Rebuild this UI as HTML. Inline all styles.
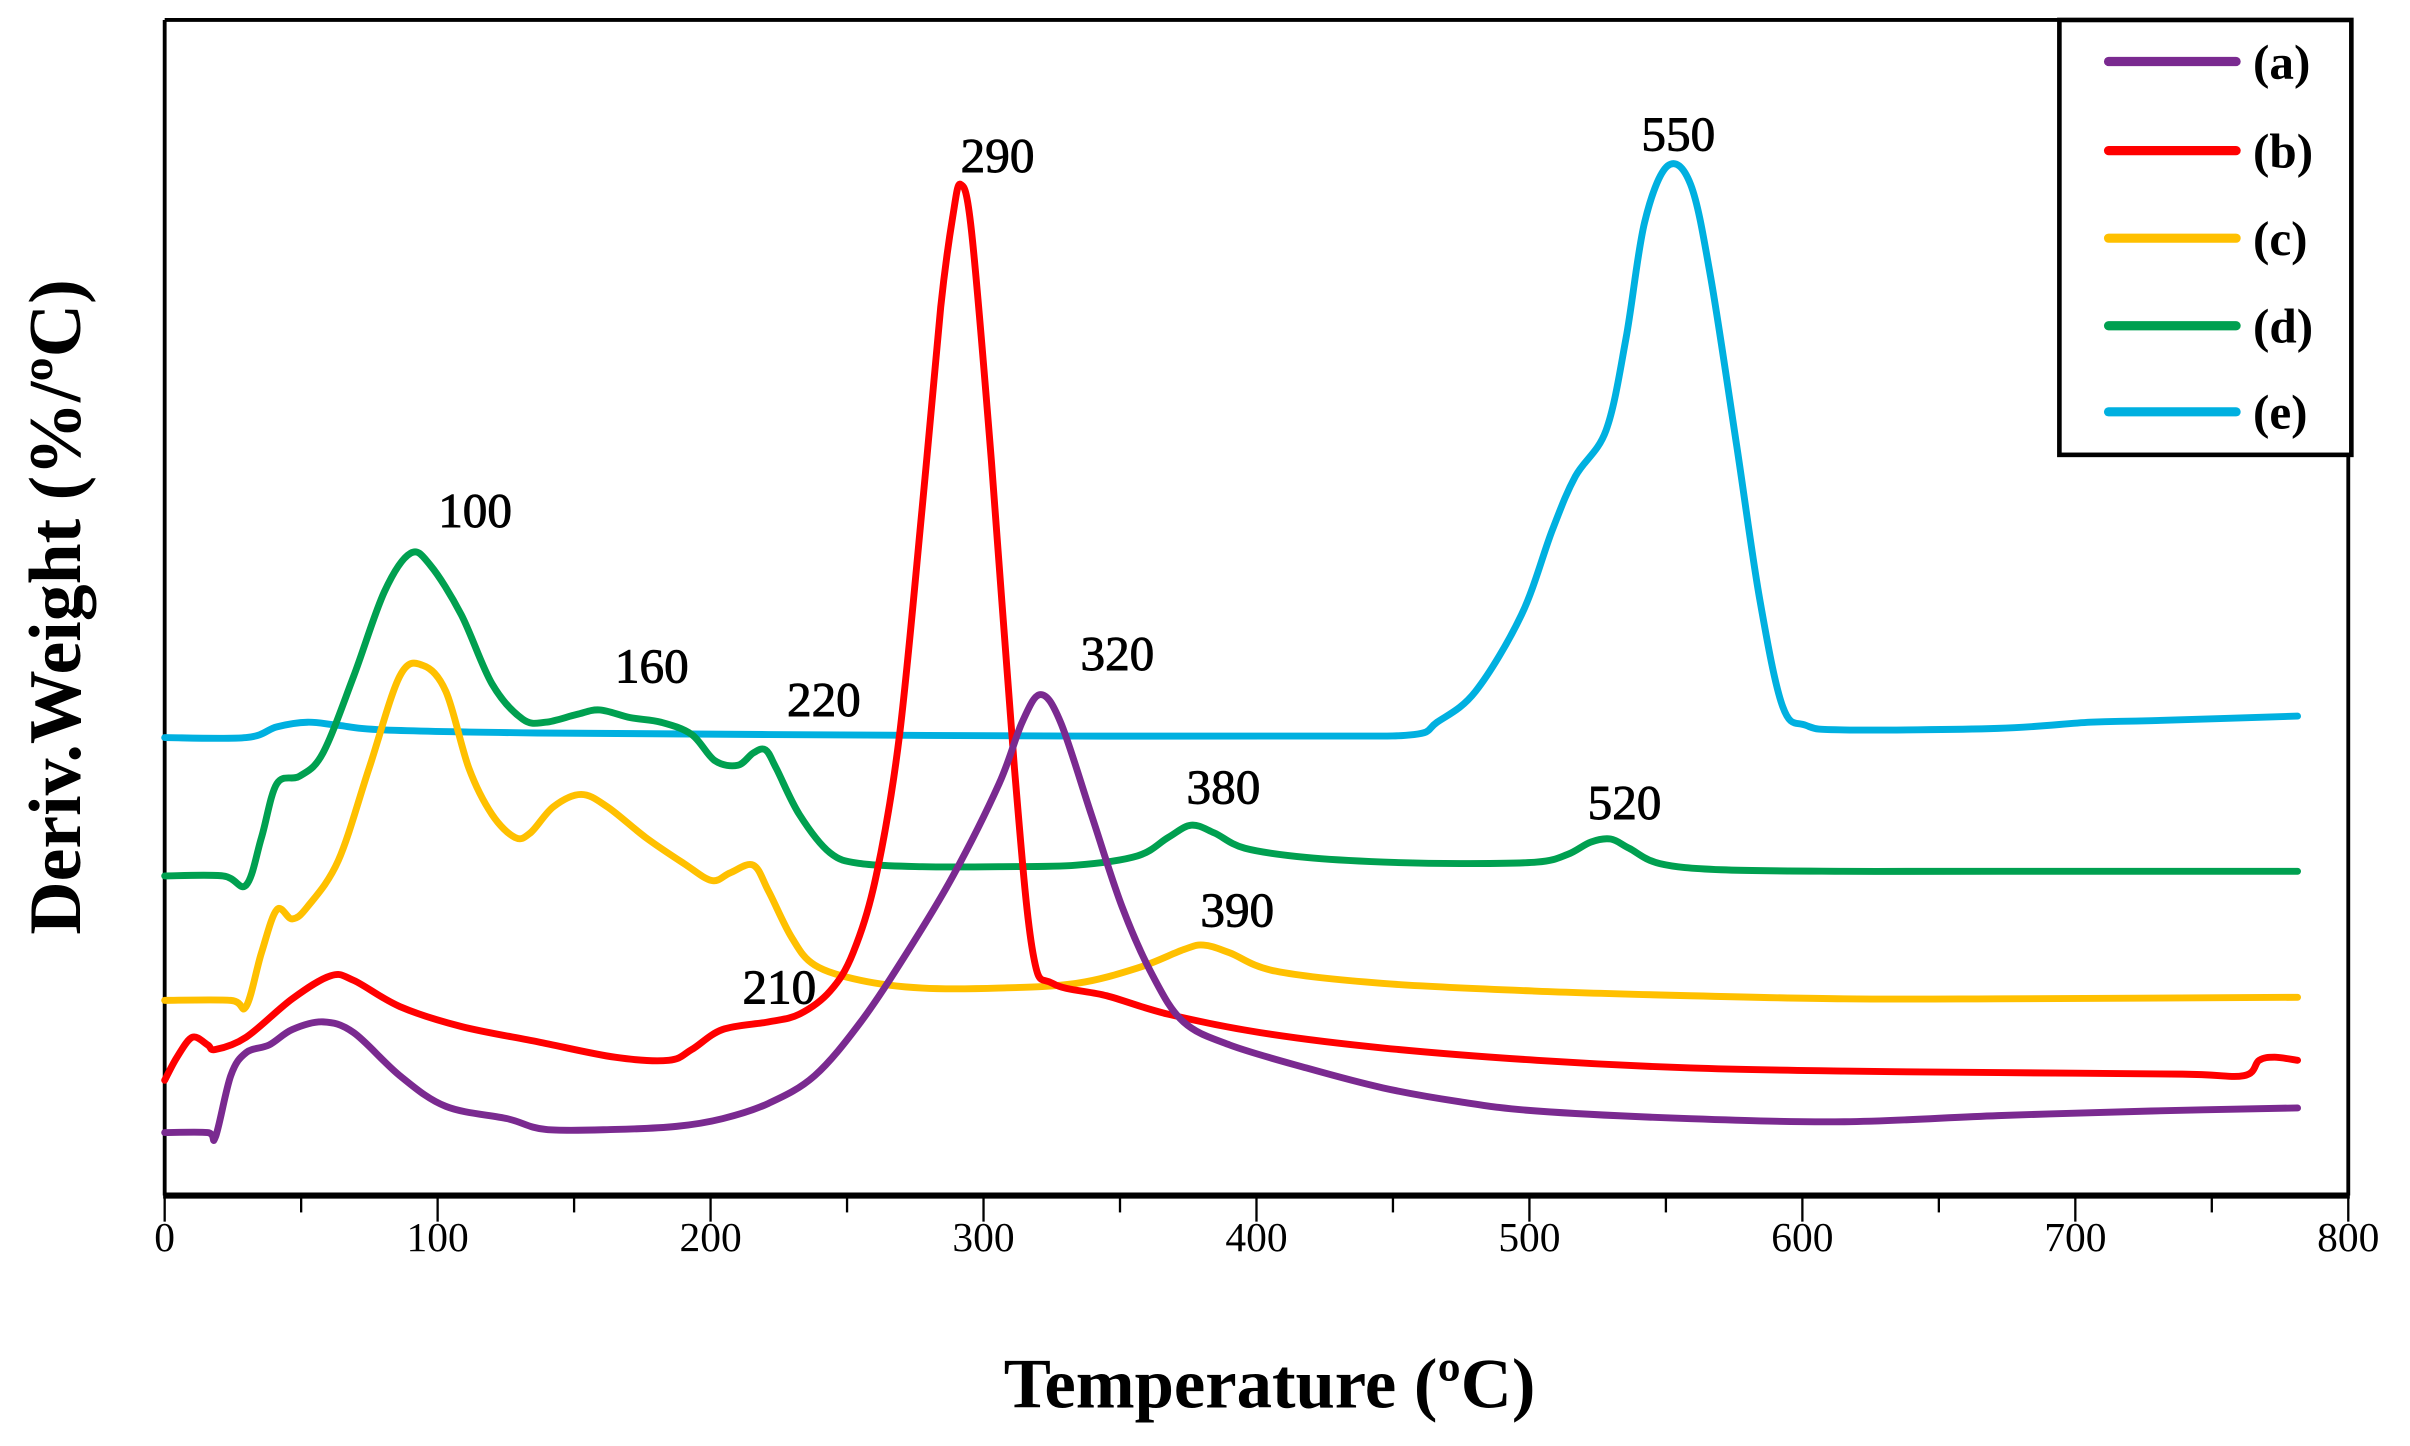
<!DOCTYPE html>
<html><head><meta charset="utf-8"><style>
html,body{margin:0;padding:0;background:#fff;}
svg{display:block;}
text{font-family:"Liberation Serif",serif;}
</style></head><body>
<svg id="s" width="2410" height="1446" viewBox="0 0 1568 941" xmlns="http://www.w3.org/2000/svg">
<rect width="1568" height="941" fill="#fff"/>
<g stroke="#000" fill="none">
<line x1="107" y1="13" x2="1528" y2="13" stroke-width="2.5"/>
<line x1="107" y1="13" x2="107" y2="778" stroke-width="2.5"/>
<line x1="1528" y1="13" x2="1528" y2="778" stroke-width="2.5"/>
<line x1="106" y1="778" x2="1529" y2="778" stroke-width="4"/>
<g id="ticks" stroke-width="1.5"></g>
</g>
<g id="curves" fill="none" stroke-width="4.5" stroke-linecap="round" stroke-linejoin="round"></g>
<rect x="1340" y="13" width="190" height="283" fill="#fff" stroke="#000" stroke-width="3"/>
<g stroke-width="6" stroke-linecap="round">
<line x1="1372" y1="40" x2="1455" y2="40" stroke="#7a2a90"/>
<line x1="1372" y1="98" x2="1455" y2="98" stroke="#ff0000"/>
<line x1="1372" y1="155" x2="1455" y2="155" stroke="#ffc000"/>
<line x1="1372" y1="212" x2="1455" y2="212" stroke="#00a050"/>
<line x1="1372" y1="268" x2="1455" y2="268" stroke="#00b0e0"/>
</g>
<g font-size="32" font-weight="bold" fill="#000">
<text x="1466" y="51">(a)</text><text x="1466" y="109">(b)</text><text x="1466" y="166">(c)</text><text x="1466" y="223">(d)</text><text x="1466" y="279">(e)</text>
</g>
<g font-size="32" fill="#000" stroke="#000" stroke-width="0.6">
<text x="625" y="112">290</text><text x="1068" y="98">550</text><text x="285" y="343">100</text>
<text x="400" y="444">160</text><text x="512" y="466">220</text><text x="703" y="436">320</text>
<text x="772" y="523">380</text><text x="1033" y="533">520</text><text x="781" y="603">390</text>
<text x="483" y="653">210</text>
</g>
<g id="xl" font-size="27" text-anchor="middle" fill="#000"></g>
<text x="826" y="916" font-size="46" font-weight="bold" text-anchor="middle">Temperature (ºC)</text>
<text transform="translate(52,395) rotate(-90)" font-size="48" font-weight="bold" text-anchor="middle">Deriv.Weight (%/ºC)</text>
</svg>
<script>
var NS="http://www.w3.org/2000/svg";
var tk=document.getElementById("ticks"),xl=document.getElementById("xl");
for(var t=0;t<=800;t+=50){var x=107+t*1.77625;var l=document.createElementNS(NS,"line");
l.setAttribute("x1",x);l.setAttribute("x2",x);l.setAttribute("y1",778);l.setAttribute("y2",t%100==0?795:789);tk.appendChild(l);
if(t%100==0){var tx=document.createElementNS(NS,"text");tx.setAttribute("x",x);tx.setAttribute("y",814);tx.textContent=t;xl.appendChild(tx);}}
function path(p){var d="M"+p[0][0]+","+p[0][1];for(var i=0;i<p.length-1;i++){var p0=p[Math.max(i-1,0)],p1=p[i],p2=p[i+1],p3=p[Math.min(i+2,p.length-1)];
d+=" C"+(p1[0]+(p2[0]-p0[0])/6)+","+(p1[1]+(p2[1]-p0[1])/6)+" "+(p2[0]-(p3[0]-p1[0])/6)+","+(p2[1]-(p3[1]-p1[1])/6)+" "+p2[0]+","+p2[1];}return d;}
var S={
"#00b0e0":[[107,480],[160,480],[180,473],[200,470],[220,472],[250,475],[350,477],[500,478],[700,479],[860,479],[920,478],[935,470],[960,450],[990,400],[1010,345],[1025,310],[1045,280],[1058,220],[1070,145],[1085,108],[1100,120],[1113,180],[1130,290],[1145,390],[1160,460],[1175,472],[1200,475],[1300,474],[1360,470],[1400,469],[1495,466]],
"#00a050":[[107,570],[145,570],[160,576],[170,545],[180,510],[195,505],[210,490],[230,440],[250,385],[267,360],[280,368],[300,400],[320,445],[340,468],[355,470],[375,465],[390,462],[410,467],[430,470],[450,478],[465,495],[480,498],[490,490],[498,488],[505,500],[520,530],[540,555],[560,562],[600,564],[650,564],[700,563],[740,557],[760,545],[775,537],[790,542],[810,552],[850,558],[900,561],[950,562],[1000,561],[1020,556],[1035,548],[1048,546],[1060,552],[1080,562],[1120,566],[1200,567],[1300,567],[1495,567]],
"#ffc000":[[107,651],[150,651],[160,655],[170,620],[180,592],[190,598],[200,590],[220,560],[240,500],[260,440],[275,433],[290,450],[305,500],[320,530],[335,545],[345,542],[360,525],[378,517],[395,525],[420,545],[445,562],[463,573],[475,568],[490,563],[500,580],[515,610],[530,628],[560,638],[600,643],[650,643],[700,640],[740,630],[770,618],[783,615],[800,620],[830,632],[900,640],[1000,645],[1100,648],[1200,650],[1300,650],[1495,649]],
"#ff0000":[[107,703],[115,688],[125,675],[135,680],[140,683],[160,675],[190,650],[215,635],[230,638],[260,655],[300,668],[350,678],[400,688],[435,690],[450,683],[470,670],[500,665],[520,660],[540,645],[555,620],[570,570],[585,480],[600,330],[612,200],[620,140],[625,120],[632,150],[645,300],[660,500],[672,620],[685,640],[720,648],[760,660],[820,672],[900,682],[1000,690],[1100,695],[1200,697],[1300,698],[1420,699],[1460,700],[1470,690],[1480,688],[1495,690]],
"#7a2a90":[[107,737],[135,737],[140,740],[150,700],[160,685],[175,680],[190,670],[210,665],[230,672],[260,700],[290,720],[330,728],[355,735],[400,735],[440,733],[470,728],[500,718],[530,700],[560,665],[590,620],[620,570],[650,510],[665,470],[677,452],[690,470],[710,530],[730,590],[750,635],[770,665],[800,680],[850,695],[900,708],[950,717],[1000,723],[1100,728],[1200,730],[1300,726],[1400,723],[1495,721]]};
var g=document.getElementById("curves");
for(var c in S){var p=document.createElementNS(NS,"path");p.setAttribute("d",path(S[c]));p.setAttribute("stroke",c);g.appendChild(p);}
</script>
</body></html>
